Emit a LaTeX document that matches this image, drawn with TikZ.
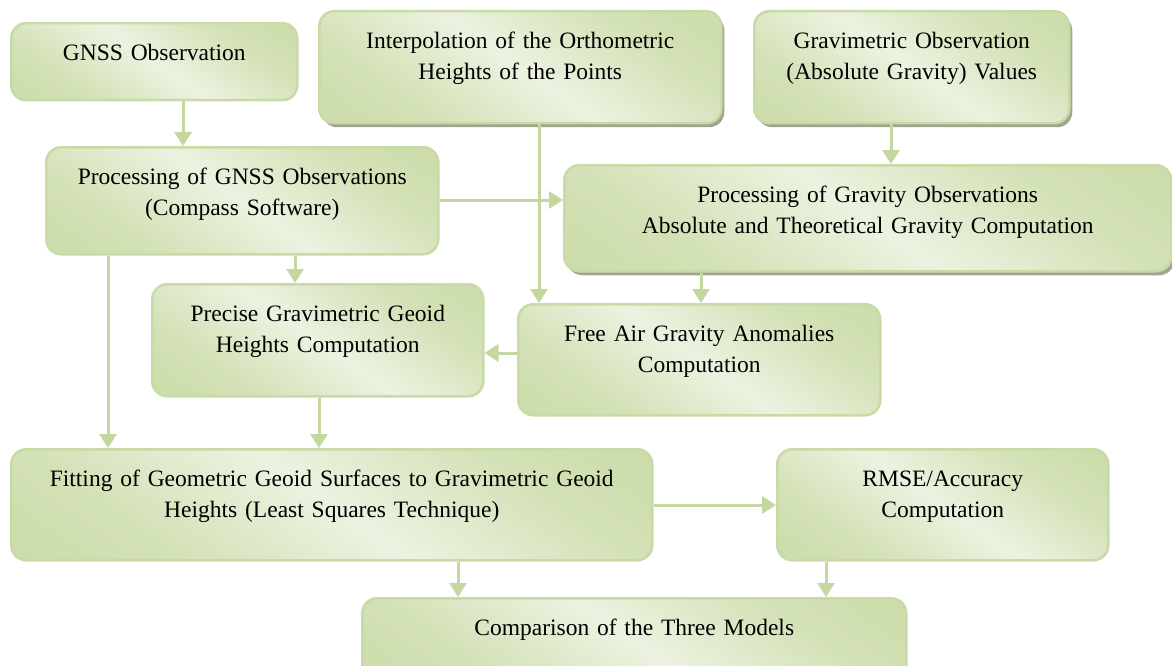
\documentclass[tikz,border=0pt]{standalone}
\usepackage{fontspec}
\setmainfont{Liberation Serif}
\usetikzlibrary{arrows.meta,shadows,calc}
\definecolor{gd}{RGB}{195,214,155}
\definecolor{gl}{RGB}{236,242,224}
\definecolor{gb}{RGB}{200,218,165}
\definecolor{ln}{RGB}{196,215,158}
\definecolor{shd}{RGB}{160,165,145}
\pgfdeclareverticalshading{gshade}{100bp}{color(0bp)=(gd); color(30bp)=(gd!60!gl); color(50bp)=(gl); color(70bp)=(gd!60!gl); color(100bp)=(gd)}
\tikzset{
  box/.style={draw=gb, line width=2.5pt, rounded corners=15pt, inner sep=0pt,
    anchor=north west, align=center, text height=37pt,
    shading=gshade, shading angle=-35,
    font=\fontsize{23.5}{31}\selectfont},
  shad/.style={drop shadow={shadow xshift=3pt, shadow yshift=-4pt, fill=shd, opacity=1}},
  arr/.style={draw=ln, line width=3pt, -{Triangle[length=14pt,width=17pt]}}
}
\begin{document}
\begin{tikzpicture}[x=1pt,y=-1pt]
\useasboundingbox (0,0) rectangle (1172,666);
\clip (0,0) rectangle (1172,666);
\node[box, text width=286pt, text depth=40pt] (gnss) at (10,22) {GNSS Observation};
\node[box, shad, text width=402pt, text depth=75pt] (interp) at (318,10) {Interpolation of the Orthometric\\Heights of the Points};
\node[box, shad, text width=315pt, text depth=75pt] (gravobs) at (753,10) {Gravimetric Observation\\(Absolute Gravity) Values};
\node[box, text width=392pt, text depth=70pt] (procgnss) at (45,146) {Processing of GNSS Observations\\(Compass Software)};
\node[box, shad, text width=607pt, text depth=69pt] (procgrav) at (563,164) {Processing of Gravity Observations\\Absolute and Theoretical Gravity Computation};
\node[box, text width=331pt, text depth=75pt] (precise) at (151,283) {Precise Gravimetric Geoid\\Heights Computation};
\node[box, text width=362pt, text depth=74pt] (freeair) at (517,303) {Free Air Gravity Anomalies\\Computation};
\node[box, text width=641pt, text depth=74pt] (fitting) at (10,448) {Fitting of Geometric Geoid Surfaces to Gravimetric Geoid\\Heights (Least Squares Technique)};
\node[box, text width=331pt, text depth=74pt] (rmse) at (776,448) {RMSE/Accuracy\\Computation};
\node[box, text width=544pt, text depth=50pt] (comp) at (361,597) {Comparison of the Three Models};
\coordinate (x183) at (183,0);
\coordinate (x539) at (539,0);
\coordinate (x891) at (891,0);
\coordinate (x295) at (295,0);
\coordinate (x108) at (108,0);
\coordinate (x701) at (701,0);
\coordinate (x319) at (319,0);
\coordinate (x458) at (458,0);
\coordinate (x826) at (826,0);
\coordinate (y200) at (0,200);
\coordinate (y353) at (0,353);
\coordinate (y505) at (0,505);
\draw[arr] (gnss.south -| x183) -- (procgnss.north -| x183);
\draw[arr] (interp.south -| x539) -- (freeair.north -| x539);
\draw[arr] (gravobs.south -| x891) -- (procgrav.north -| x891);
\draw[arr] (procgnss.east |- y200) -- (procgrav.west |- y200);
\draw[arr] (procgnss.south -| x295) -- (precise.north -| x295);
\draw[arr] (procgnss.south -| x108) -- (fitting.north -| x108);
\draw[arr] (procgrav.south -| x701) -- (freeair.north -| x701);
\draw[arr] (freeair.west |- y353) -- (precise.east |- y353);
\draw[arr] (precise.south -| x319) -- (fitting.north -| x319);
\draw[arr] (fitting.east |- y505) -- (rmse.west |- y505);
\draw[arr] (fitting.south -| x458) -- (comp.north -| x458);
\draw[arr] (rmse.south -| x826) -- (comp.north -| x826);
\end{tikzpicture}
\end{document}
